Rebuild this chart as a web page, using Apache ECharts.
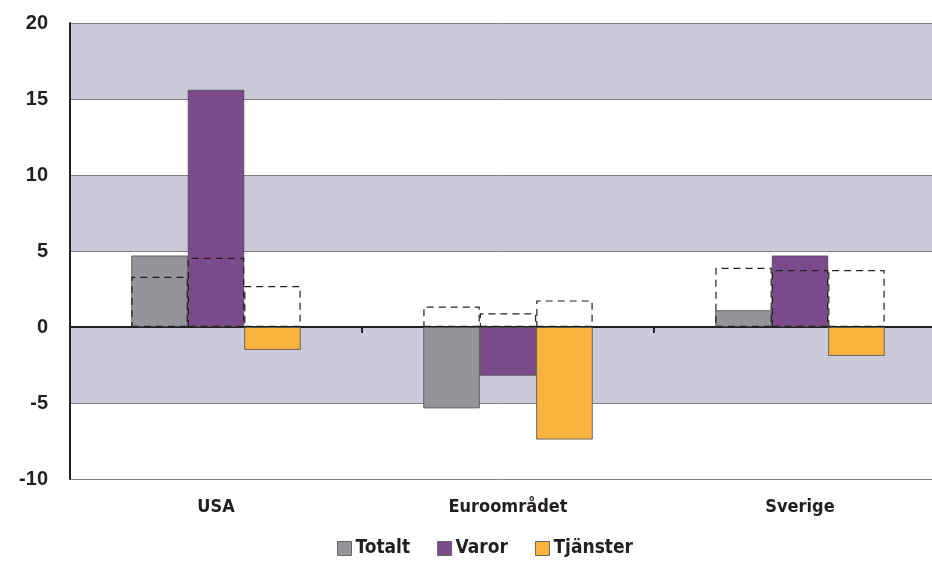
<!DOCTYPE html>
<html>
<head>
<meta charset="utf-8">
<script src="https://cdn.jsdelivr.net/npm/echarts@6/dist/echarts.min.js"></script>
<style>
  html, body { margin: 0; padding: 0; background: #fff; overflow: hidden; }
  #chart { width: 932px; height: 565px; }
</style>
</head>
<body>
<div id="chart"></div>
<script>
  var categories = ['USA', 'Euroområdet', 'Sverige']
  var totalt = [4.7, -5.35, 1.1]
  var varor = [15.6, -3.2, 4.7]
  var tjanster = [-1.5, -7.4, -1.9]
  // dashed outlines (previous level)
  var totaltPrev = [3.3, 1.35, 3.9]
  var varorPrev = [4.55, 0.9, 3.75]
  var tjansterPrev = [2.7, 1.75, 3.75]

  var narrow = '"DejaVu Sans Condensed", "Arial Narrow", sans-serif'
  var chart = echarts.init(document.getElementById('chart'))

  function solid (name, data, color) {
    return {
      name: name,
      type: 'bar',
      xAxisIndex: 0,
      data: data,
      barGap: 0,
      barCategoryGap: '42%',
      itemStyle: { color: color, borderColor: '#4d4d4d', borderWidth: 0.8 },
      z: 2,
    }
  }
  function dashed (data) {
    return {
      type: 'bar',
      xAxisIndex: 1,
      data: data,
      barGap: 0,
      barCategoryGap: '42%',
      silent: true,
      itemStyle: { color: 'rgba(0,0,0,0)', borderColor: '#222', borderWidth: 1.2, borderType: [7, 5] },
      z: 4,
    }
  }

  var option = {
    animation: false,
    grid: { left: 70, width: 876, top: 23, height: 456, outerBoundsMode: 'none', containLabel: false },
    legend: {
      bottom: 2,
      left: 332,
      itemGap: 27,
      itemWidth: 14,
      itemHeight: 14,
      icon: 'rect',
      data: [
        { name: 'Totalt', itemStyle: { borderColor: '#666', borderWidth: 1 } },
        { name: 'Varor', itemStyle: { borderColor: '#666', borderWidth: 1 } },
        { name: 'Tjänster', itemStyle: { borderColor: '#666', borderWidth: 1 } },
      ],
      textStyle: { fontFamily: narrow, fontWeight: 'bold', fontSize: 19, color: '#231f20', padding: [0, 0, 0, -1] },
    },
    xAxis: [
      {
        type: 'category',
        data: categories,
        position: 'bottom',
        axisLine: { show: false, onZero: false },
        axisTick: { show: false },
        axisLabel: { margin: 19, fontFamily: narrow, fontWeight: 'bold', fontSize: 18, color: '#231f20' },
      },
      {
        type: 'category',
        data: categories,
        position: 'top',
        axisLine: { show: true, onZero: true, lineStyle: { color: '#231f20', width: 2 } },
        axisTick: { show: true, inside: true, length: 6, lineStyle: { color: '#231f20', width: 2 } },
        axisLabel: { show: false },
      },
    ],
    yAxis: {
      type: 'value',
      min: -10,
      max: 20,
      interval: 5,
      axisLine: { show: true, lineStyle: { color: '#231f20', width: 2 } },
      axisTick: { show: false },
      axisLabel: { margin: 22, fontFamily: '"Liberation Sans", Arial, sans-serif', fontWeight: 'bold', fontSize: 20, color: '#231f20' },
      splitLine: { show: true, lineStyle: { color: '#7f7f8a', width: 1 } },
      splitArea: { show: true, areaStyle: { color: ['#ffffff', '#cbcadb'] } },
    },
    series: [
      solid('Totalt', totalt, '#939598'),
      solid('Varor', varor, '#7b4a8b'),
      solid('Tjänster', tjanster, '#fbb340'),
      dashed(totaltPrev),
      dashed(varorPrev),
      dashed(tjansterPrev),
    ],
  }
  chart.setOption(option)
</script>
</body>
</html>
